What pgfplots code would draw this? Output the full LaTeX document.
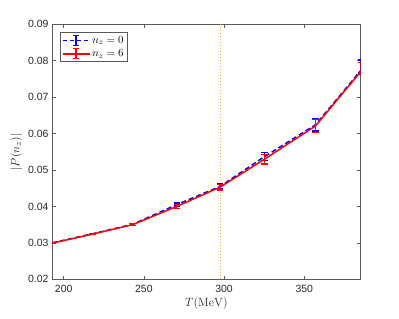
\documentclass[border=0pt]{standalone}
\usepackage[no-math]{fontspec}
\setmainfont{Liberation Sans}
\usepackage{pgfplots}
\pgfplotsset{compat=1.18}
\definecolor{axgray}{RGB}{90,90,90}
\definecolor{txtgray}{RGB}{38,38,38}
\definecolor{morange}{rgb}{0.929,0.694,0.125}
\begin{document}
\begin{tikzpicture}[x=1bp,y=1bp]
\useasboundingbox (0,0) rectangle (399,319);
\begin{axis}[
  at={(52bp,39.7bp)}, anchor=south west,
  width=308.7bp, height=255bp, scale only axis,
  xmin=192.7, xmax=385.2, ymin=0.02, ymax=0.09,
  xtick={200,250,300,350},
  ytick={0.02,0.03,0.04,0.05,0.06,0.07,0.08,0.09},
  yticklabel style={/pgf/number format/fixed, /pgf/number format/precision=2, /pgf/number format/fixed zerofill},
  /pgf/number format/assume math mode=true,
  scaled y ticks=false,
  tick align=inside,
  major tick length=3.5bp,
  tick style={axgray, line width=0.6bp},
  axis line style={axgray, line width=0.8bp},
  ticklabel style={font=\fontsize{10.5}{12}\selectfont, text=txtgray},
  xticklabel style={yshift=-2bp},
  xlabel={$T(\mathrm{MeV})$},
  ylabel={$|P(n_z)|$},
  label style={font=\fontsize{13}{14}\selectfont, text=txtgray},
  xlabel style={yshift=2bp},
  ylabel style={yshift=-1bp},
  legend style={at={(0.026,0.969)}, anchor=north west, draw=axgray, line width=0.6bp,
     font=\fontsize{11}{12}\selectfont, inner xsep=1.5bp, inner ysep=1.5bp,
     row sep=1bp, cells={anchor=west}},
  legend cell align=left,
]
\addplot[morange, dotted, line width=1bp, forget plot] coordinates {(297.5,0.02) (297.5,0.09)};

\addplot[blue, line width=1.5bp, dash pattern=on 5bp off 3bp, forget plot,
  error bars/.cd, y dir=both, y explicit,
  error bar style={solid, line width=1.4bp},
  error mark options={rotate=90, mark size=3.2bp, line width=1.4bp, solid}]
  coordinates {
  (192.7,0.0300) +- (0,0.0001)
  (218.0,0.0325) +- (0,0.0001)
  (243.0,0.0351) +- (0,0.0003)
  (270.5,0.0405) +- (0,0.0005)
  (297.5,0.0455) +- (0,0.0007)
  (325.3,0.0537) +- (0,0.0011)
  (357.0,0.0624) +- (0,0.0017)
  (385.2,0.0773) += (0,0.0029) -= (0,0.0007)
  };

\addplot[red, line width=1.5bp, forget plot,
  error bars/.cd, y dir=both, y explicit,
  error bar style={solid, line width=1.4bp},
  error mark options={rotate=90, mark size=3.2bp, line width=1.4bp, solid}]
  coordinates {
  (192.7,0.0299) +- (0,0.0001)
  (218.0,0.0324) +- (0,0.0001)
  (243.0,0.0350) +- (0,0.0003)
  (270.5,0.0400) +- (0,0.0006)
  (297.5,0.0453) +- (0,0.0008)
  (325.3,0.0530) +- (0,0.0013)
  (357.0,0.0621) +- (0,0.0018)
  (385.2,0.0770) += (0,0.0025) -= (0,0.0006)
  };

\addlegendimage{legend image code/.code={
    \draw[blue, line width=1.5bp, dash pattern=on 4bp off 3bp] (0bp,0bp) -- (27bp,0bp);
    \draw[blue, line width=1.4bp] (13.5bp,-5bp) -- (13.5bp,5bp) (10.5bp,-5bp) -- (16.5bp,-5bp) (10.5bp,5bp) -- (16.5bp,5bp);
  }}
\addlegendentry{$n_z=0$}
\addlegendimage{legend image code/.code={
    \draw[red, line width=1.5bp] (0bp,0bp) -- (27bp,0bp);
    \draw[red, line width=1.4bp] (13.5bp,-5bp) -- (13.5bp,5bp) (10.5bp,-5bp) -- (16.5bp,-5bp) (10.5bp,5bp) -- (16.5bp,5bp);
  }}
\addlegendentry{$n_z=6$}
\end{axis}
\end{tikzpicture}
\end{document}
